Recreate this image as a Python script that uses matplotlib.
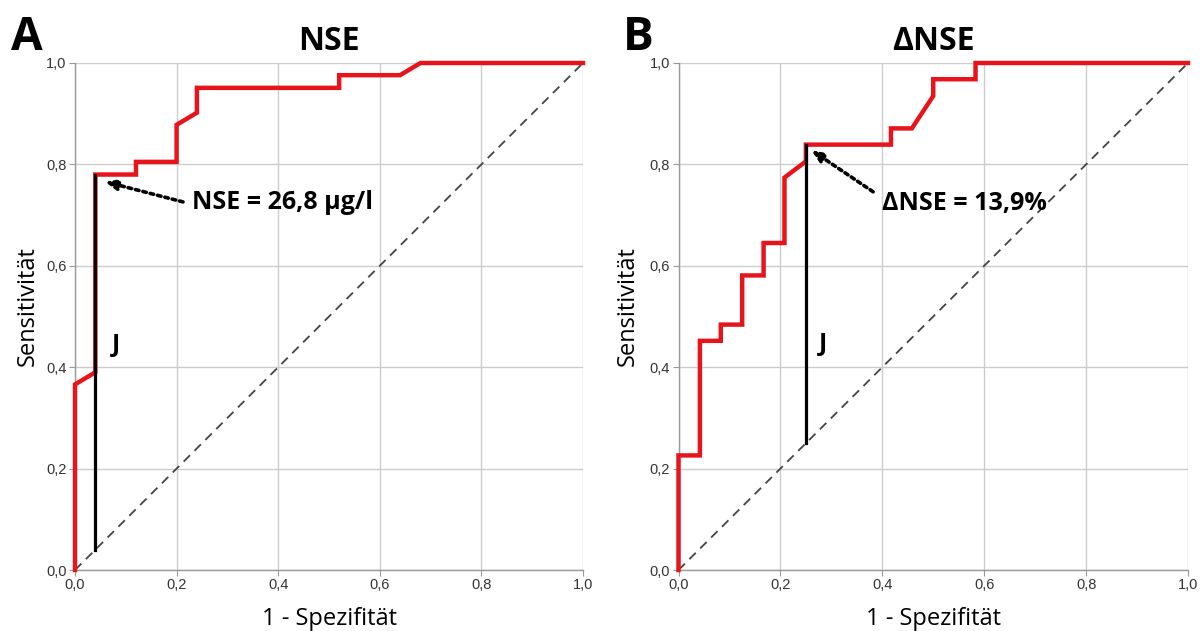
import matplotlib
matplotlib.use("Agg")
import matplotlib.pyplot as plt

# ---- data ----
fpr_a = [0.0, 0.0, 0.04, 0.04, 0.12, 0.12, 0.20, 0.20, 0.24, 0.24, 0.52, 0.52, 0.64, 0.68, 1.0]
tpr_a = [0.0, 0.366, 0.390, 0.780, 0.780, 0.805, 0.805, 0.878, 0.902, 0.951, 0.951, 0.976, 0.976, 1.0, 1.0]

fpr_b = [0.0, 0.0, 0.042, 0.042, 0.083, 0.083, 0.125, 0.125, 0.167, 0.167, 0.208, 0.208,
         0.25, 0.25, 0.417, 0.417, 0.458, 0.50, 0.50, 0.583, 0.583, 1.0]
tpr_b = [0.0, 0.226, 0.226, 0.452, 0.452, 0.484, 0.484, 0.581, 0.581, 0.645, 0.645, 0.774,
         0.806, 0.839, 0.839, 0.871, 0.871, 0.935, 0.968, 0.968, 1.0, 1.0]

youden_a = (0.04, 0.780)
youden_b = (0.25, 0.839)

titles = ["NSE", "ΔNSE"]
panel_letters = ["A", "B"]
cutoff_labels = ["NSE = 26,8 µg/l", "ΔNSE = 13,9%"]
ticks = [0.0, 0.2, 0.4, 0.6, 0.8, 1.0]
tick_labels = ["0,0", "0,2", "0,4", "0,6", "0,8", "1,0"]
xlabel = "1 - Spezifität"
ylabel = "Sensitivität"

RED = "#e8141c"
GRID = "#cccccc"
SPINE = "#999999"
TICKC = "#333333"
LABFONT = ["Open Sans", "DejaVu Sans"]
TICKFONT = ["Liberation Sans", "DejaVu Sans"]

fig = plt.figure(figsize=(12, 6.31), dpi=100)
ax_a = fig.add_axes([75 / 1200, 61 / 631, 508 / 1200, 507 / 631])
ax_b = fig.add_axes([678.5 / 1200, 61 / 631, 509.5 / 1200, 507 / 631])

panels = [
    (ax_a, fpr_a, tpr_a, youden_a, (0.230, 0.724), (0.2126, 0.726), (0.059, 0.766), (0.081, 0.442), -0.0925),
    (ax_b, fpr_b, tpr_b, youden_b, (0.400, 0.722), (0.382, 0.746), (0.261, 0.828), (0.284, 0.444), -0.099),
]

for i, (ax, fx, ty, yd, txt_xy, tail, tip, j_xy, ylx) in enumerate(panels):
    ax.set_xlim(0, 1)
    ax.set_ylim(0, 1)
    ax.set_xticks(ticks)
    ax.set_yticks(ticks)
    ax.set_xticklabels(tick_labels, fontfamily=TICKFONT, fontsize=10.5, color=TICKC)
    ax.set_yticklabels(tick_labels, fontfamily=TICKFONT, fontsize=10.5, color=TICKC)
    ax.tick_params(axis="both", length=4, width=0.8, color=SPINE, pad=2)
    ax.grid(True, color=GRID, lw=1.0, zorder=0)
    ax.set_axisbelow(True)
    for s in ["top", "right"]:
        ax.spines[s].set_visible(False)
    for s in ["left", "bottom"]:
        ax.spines[s].set_color(SPINE)
        ax.spines[s].set_linewidth(1.0)

    # reference diagonal
    ax.plot([0, 1], [0, 1], ls=(0, (5, 3.5)), color="#444444", lw=1.3, zorder=2)
    # ROC curve
    ax.plot(fx, ty, color=RED, lw=3.2, zorder=4, clip_on=False, solid_joinstyle="miter")
    # Youden J line
    ax.plot([yd[0], yd[0]], [yd[0], yd[1]], color="black", lw=2.3, zorder=5)
    ax.text(j_xy[0], j_xy[1], "J", fontfamily=LABFONT, fontweight="bold", fontsize=18,
            ha="center", va="center", zorder=6)

    # dotted arrow
    ax.annotate("", xy=tip, xytext=tail,
                arrowprops=dict(arrowstyle="-|>,head_length=0.7,head_width=0.3",
                                linestyle=(0, (1, 1.1)), lw=2.6, color="black",
                                shrinkA=0, shrinkB=0), zorder=6)
    ax.text(txt_xy[0], txt_xy[1], cutoff_labels[i], fontfamily=LABFONT, fontweight="bold",
            fontsize=18, ha="left", va="center", zorder=6)

    ax.set_title(titles[i], fontfamily=LABFONT, fontweight="bold", fontsize=23, pad=9)
    ax.set_xlabel(xlabel, fontfamily=LABFONT, fontsize=17, va="center")
    ax.xaxis.set_label_coords(0.5, -0.096)
    ax.set_ylabel(ylabel, fontfamily=LABFONT, fontsize=17, va="center")
    ax.yaxis.set_label_coords(ylx, 0.52)

fig.text(27 / 1200, 1 - 37 / 631, panel_letters[0], fontfamily=LABFONT, fontweight="bold",
         fontsize=33, ha="center", va="center")
fig.text(638 / 1200, 1 - 37 / 631, panel_letters[1], fontfamily=LABFONT, fontweight="bold",
         fontsize=33, ha="center", va="center")

fig.savefig("out.png", dpi=100, facecolor="white")
